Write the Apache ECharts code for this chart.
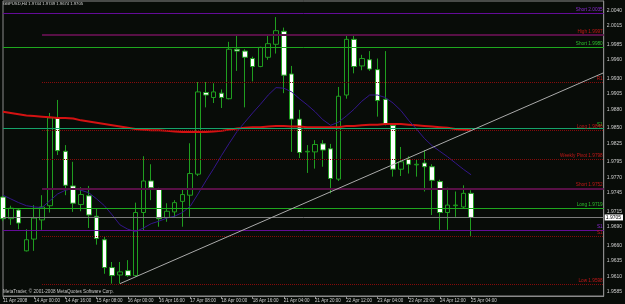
<!DOCTYPE html>
<html>
<head>
<meta charset="utf-8">
<script src="https://cdn.jsdelivr.net/npm/echarts/dist/echarts.min.js"></script>
<style>
    html, body { margin: 0; padding: 0; background: #080c08; }
    #chart { width: 625px; height: 304px; }
</style>
</head>
<body>
<div id="chart"></div>
<script>
var symbolName = 'GBPUSD,H4';

// H4 bars, 11 Apr 2008 .. 25 Apr 2008 04:00
var opens = [1.9738,1.9703,1.9717,1.9651,1.9670,1.9701,1.9724,1.9866,1.9812,1.9756,
    1.9726,1.9740,1.9707,1.9669,1.9624,1.9612,1.9619,1.9611,1.9713,1.9764,
    1.9751,1.9705,1.9714,1.9731,1.9741,1.9775,1.9907,1.9899,1.9906,1.9897,
    1.9977,1.9974,1.9962,1.9949,1.9964,1.9985,2.0006,1.9937,1.9864,1.9811,
    1.9811,1.9824,1.9816,1.9767,1.9903,1.9993,1.9950,1.9960,1.9944,1.9896,
    1.9854,1.9783,1.9799,1.9790,1.9793,1.9787,1.9763,1.9713,1.9724,1.9722,
    1.9744];
var closes = [1.9703,1.9720,1.9696,1.9669,1.9704,1.9722,1.9866,1.9813,1.9757,1.9728,
    1.9742,1.9709,1.9671,1.9624,1.9611,1.9617,1.9611,1.9713,1.9764,1.9753,
    1.9703,1.9715,1.9729,1.9742,1.9776,1.9908,1.9903,1.9908,1.9899,1.9977,
    1.9974,1.9964,1.9949,1.9980,1.9986,2.0007,1.9935,1.9864,1.9810,1.9812,
    1.9823,1.9814,1.9768,1.9901,1.9993,1.9949,1.9962,1.9945,1.9894,1.9856,
    1.9783,1.9795,1.9791,1.9791,1.9787,1.9765,1.9713,1.9725,1.9725,1.9744,
    1.9705];
var lows = [1.9699,1.9693,1.9686,1.9650,1.9651,1.9685,1.9713,1.9806,1.9741,1.9714,
    1.9715,1.9688,1.9661,1.9614,1.9598,1.9598,1.9609,1.9609,1.9684,1.9733,
    1.9690,1.9698,1.9706,1.9690,1.9706,1.9772,1.9883,1.9890,1.9882,1.9896,
    1.9942,1.9883,1.9925,1.9948,1.9960,1.9970,1.9906,1.9811,1.9801,1.9777,
    1.9784,1.9787,1.9744,1.9764,1.9897,1.9938,1.9943,1.9942,1.9868,1.9854,
    1.9771,1.9772,1.9776,1.9771,1.9747,1.9709,1.9685,1.9685,1.9706,1.9720,
    1.9674];
var highs = [1.9740,1.9724,1.9720,1.9686,1.9725,1.9741,1.9874,1.9895,1.9822,1.9795,
    1.9754,1.9756,1.9720,1.9675,1.9633,1.9633,1.9636,1.9729,1.9804,1.9791,
    1.9753,1.9728,1.9733,1.9751,1.9825,1.9924,1.9924,1.9922,1.9912,1.9989,
    2.0000,1.9977,1.9965,1.9981,2.0000,2.0029,2.0012,1.9950,1.9879,1.9822,
    1.9830,1.9830,1.9824,1.9916,2.0000,2.0000,1.9968,1.9974,1.9962,1.9974,
    1.9856,1.9819,1.9804,1.9799,1.9814,1.9791,1.9766,1.9753,1.9747,1.9757,
    1.9749];

// slow moving average (red)
var maSlow = [1.9876,1.9874,1.9872,1.9870,1.9869,1.9868,1.9867,1.9866,1.9866,1.9865,
    1.9862,1.9860,1.9858,1.9856,1.9854,1.9852,1.9850,1.9848,1.9847,1.9846,
    1.9846,1.9845,1.9844,1.9843,1.9843,1.9843,1.9843,1.9844,1.9845,1.9847,
    1.9849,1.9850,1.9851,1.9851,1.9852,1.9853,1.9853,1.9852,1.9852,1.9851,
    1.9851,1.9851,1.9851,1.9851,1.9853,1.9853,1.9854,1.9855,1.9855,1.9856,
    1.9856,1.9856,1.9855,1.9854,1.9853,1.9852,1.9851,1.9850,1.9848,1.9847,
    1.9846];
// fast moving average (purple)
var maFast = [1.9741,1.9735,1.9729,1.9724,1.9722,1.9721,1.9732,1.9743,1.9749,1.9752,
    1.9749,1.9745,1.9735,1.9724,1.9709,1.9693,1.9686,1.9682,1.9688,1.9695,
    1.9699,1.9704,1.9707,1.9713,1.9723,1.9743,1.9764,1.9784,1.9805,1.9825,
    1.9844,1.9859,1.9874,1.9888,1.9903,1.9915,1.9914,1.9908,1.9897,1.9887,
    1.9876,1.9863,1.9854,1.9859,1.9869,1.9880,1.9893,1.9903,1.9903,1.9899,
    1.9890,1.9878,1.9862,1.9848,1.9833,1.9821,1.9812,1.9803,1.9793,1.9783,
    1.9774];

var timeLabels = ['11 Apr 2008','14 Apr 00:00','14 Apr 16:00','15 Apr 08:00','16 Apr 00:00',
    '16 Apr 16:00','17 Apr 08:00','18 Apr 00:00','18 Apr 16:00','21 Apr 04:00','21 Apr 20:00',
    '22 Apr 12:00','23 Apr 04:00','23 Apr 20:00','24 Apr 12:00','25 Apr 04:00'];
var priceLabels = [2.0040,2.0015,1.9985,1.9960,1.9930,1.9905,1.9880,1.9850,1.9825,1.9795,
    1.9770,1.9745,1.9715,1.9690,1.9660,1.9635,1.9610,1.9585];

// pivot / entry levels
var levelTexts = ['Short 2.0035','High 1.9997','Short 1.9980','R1','S1','Long 1.9846',
    'Weekly Pivot 1.9798','Short 1.9752','Long 1.9719','S1','S1','Low 1.9598'];
var levelValues = [2.0036,2.0000,1.9980,1.9923,1.9849,1.9846,1.9799,1.9752,1.9720,1.9685,1.9675,1.9597];
var levelFromBar = [0,5,0,5,0,5,5,5,0,0,5,5];
var levelKinds = ['purple','maroon','green','red','teal','red','red','maroon','green','purple','red','red'];

var bidPrice = 1.9705;
var trendBars = [15, 77];
var trendPrices = [1.9598, 1.9939];

var slots = 78;   // bars + empty space on the right (chart shift)
var font = '"Liberation Sans", Arial, sans-serif';

var kindStyle = {
    purple: { color: '#640c98', width: 1, type: 'solid', text: '#8c2ad4' },
    green:  { color: '#1ea81e', width: 1, type: 'solid', text: '#2cc02c' },
    teal:   { color: '#15a46a', width: 1, type: 'solid', text: '#2cc02c' },
    red:    { color: '#860c0c', width: 1, type: 'dotted', text: '#c41818' },
    maroon: { color: '#581046', width: 2, type: 'solid', text: '#c41818' }
};

var categories = [];
for (var i = 0; i < slots; i++) categories.push(String(i));

var candles = [];
for (var j = 0; j < opens.length; j++) {
    candles.push([opens[j], closes[j], lows[j], highs[j]]);
}

var labelSet = {};
priceLabels.forEach(function (p) { labelSet[Math.round(p * 10000)] = true; });

var lines = [];
for (var k = 0; k < levelValues.length; k++) {
    var st = kindStyle[levelKinds[k]];
    var v = levelValues[k];
    lines.push([
        {
            coord: [levelFromBar[k], v],
            lineStyle: { color: st.color, width: st.width, type: st.type },
            label: {
                show: true, position: 'insideEndTop', formatter: levelTexts[k],
                color: st.text, fontSize: 4.7, fontFamily: font, distance: 1
            }
        },
        { coord: [slots - 1, v] }
    ]);
}
// bid line with price box on the axis
lines.push([
    {
        coord: [0, bidPrice],
        lineStyle: { color: '#7c7c7c', width: 1, type: 'solid' },
        label: {
            show: true, position: 'end', formatter: bidPrice.toFixed(4), color: '#000',
            backgroundColor: '#fff', fontSize: 5, fontFamily: font, padding: [1, 2, 0, 1], distance: 1
        }
    },
    { coord: [slots - 1, bidPrice] }
]);
// trend line
lines.push([
    { coord: [trendBars[0], trendPrices[0]], lineStyle: { color: '#aaaaaa', width: 1, type: 'solid' }, label: { show: false } },
    { coord: [trendBars[1], trendPrices[1]] }
]);

var last = opens.length - 1;
var titleText = symbolName + ' ' + [opens[last], highs[last], lows[last], closes[last]].map(function (x) { return x.toFixed(4); }).join(' ');

var myChart = echarts.init(document.getElementById('chart'), null, { renderer: 'canvas' });
myChart.setOption({
    backgroundColor: '#080c08',
    animation: false,
    grid: {
        left: 2, right: 19, top: 1, bottom: 8,
        show: true, borderColor: '#8a8a8a', borderWidth: 1, backgroundColor: 'transparent'
    },
    xAxis: {
        type: 'category',
        data: categories,
        boundaryGap: false,
        axisLine: { show: true, lineStyle: { color: '#8a8a8a' } },
        axisTick: {
            show: true, length: 3, lineStyle: { color: '#8a8a8a' },
            interval: function (idx) { return idx % 4 === 0 && idx / 4 < timeLabels.length; }
        },
        axisLabel: {
            interval: 3, align: 'left', margin: 2, color: '#cfcfcf', fontSize: 4.5, fontFamily: font,
            formatter: function (val, idx) {
                return (idx % 4 === 0 && timeLabels[idx / 4]) ? timeLabels[idx / 4] : '';
            }
        },
        splitLine: { show: false }
    },
    yAxis: {
        type: 'value',
        position: 'right',
        min: 1.9578,
        max: 2.0055,
        interval: 0.0001,
        axisLine: { show: true, lineStyle: { color: '#8a8a8a' } },
        axisTick: { show: false },
        splitLine: { show: false },
        axisLabel: {
            margin: 3, color: '#cfcfcf', fontSize: 5, fontFamily: font,
            formatter: function (val) {
                return labelSet[Math.round(val * 10000)] ? val.toFixed(4) : '';
            }
        }
    },
    graphic: [
        { type: 'text', left: 3, top: 2, style: { text: titleText, fill: '#d8d8d8', font: '4.2px ' + font } },
        { type: 'text', left: 3, top: 289, style: { text: 'MetaTrader, \u00a9 2001-2008 MetaQuotes Software Corp.', fill: '#c8c8c8', font: '4.6px ' + font } }
    ],
    series: [
        {
            type: 'candlestick',
            data: candles,
            barWidth: 5,
            itemStyle: {
                color: '#080c08', color0: '#ffffff',
                borderColor: '#1f9e1f', borderColor0: '#1f9e1f', borderWidth: 1
            },
            markLine: { silent: true, symbol: ['none', 'none'], animation: false, data: lines }
        },
        {
            type: 'line', data: maSlow, showSymbol: false, silent: true,
            lineStyle: { color: '#d41212', width: 2 }
        },
        {
            type: 'line', data: maFast, showSymbol: false, silent: true,
            lineStyle: { color: '#33168a', width: 1 }
        }
    ]
});
</script>
</body>
</html>
